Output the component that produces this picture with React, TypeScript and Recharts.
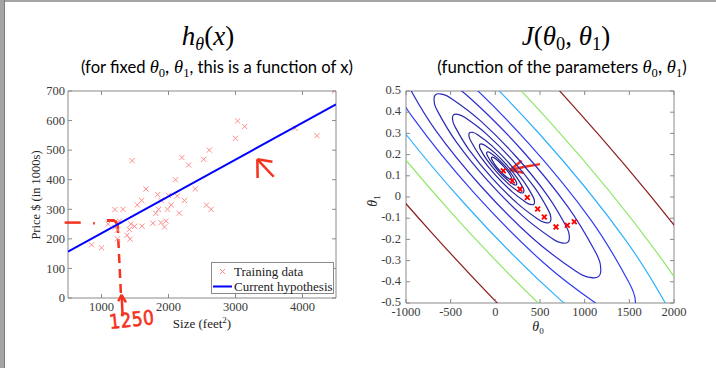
import React from 'react';
import { ScatterChart, Scatter, XAxis, YAxis, ReferenceArea, ReferenceLine, Legend } from 'recharts';

// ---------- Left chart data: housing training set ----------
const sizeFeet = [2104, 1600, 2400, 1416, 3000, 1985, 1534, 1427, 1380, 1494, 1940, 2000, 1890, 4478, 1268, 2300, 1320, 1236, 2609, 3031, 1767, 1888, 1604, 1962, 3890, 1100, 1458, 2526, 2200, 2637, 1839, 1000, 2040, 3137, 1811, 1437, 1239, 2132, 4215, 2162, 1664, 2238, 2567, 1200, 852, 1852, 1203];
const priceK = [399.9, 329.9, 369, 232, 539.9, 299.9, 314.9, 199, 212, 242.5, 240, 347, 330, 699.9, 259.9, 449.9, 299.9, 199.9, 500, 599, 252.9, 255, 242.9, 259.9, 573.9, 249.9, 464.5, 469, 475, 299.9, 349.9, 169.9, 314.9, 579.9, 285.9, 249.9, 229.9, 345, 549, 287, 368.5, 329.9, 314, 299, 179.9, 299.9, 239.5];
const hypothesisSize = [500, 4500];
const hypothesisPrice = [157, 655];
const sizeTicks = [1000, 2000, 3000, 4000];
const priceTicks = [0, 100, 200, 300, 400, 500, 600, 700];
const legendNames = ['Training data', 'Current hypothesis'];

// ---------- Right chart data ----------
const theta0Ticks = [-1000, -500, 0, 500, 1000, 1500, 2000];
const theta1Ticks = [-0.5, -0.4, -0.3, -0.2, -0.1, 0, 0.1, 0.2, 0.3, 0.4, 0.5];
const descentTheta0 = [89, 190, 276, 358, 474, 548, 679, 806, 884];
const descentTheta1 = [0.124, 0.076, 0.037, -0.002, -0.057, -0.094, -0.141, -0.133, -0.117];

const contour1 = [[183.7, 0.0818], [185.9, 0.0859], [180.3, 0.0934], [147.8, 0.1159], [94.8, 0.1434], [35.4, 0.1686], [-14.2, 0.1846], [-31.1, 0.1877], [-41.1, 0.1872], [-43.3, 0.1831], [-37.7, 0.1756], [-5.2, 0.1531], [47.8, 0.1256], [107.2, 0.1004], [156.8, 0.0844], [173.7, 0.0813]];
const contour2 = [[236.1, 0.0573], [239.4, 0.0633], [231.2, 0.0742], [183.5, 0.1072], [105.7, 0.1476], [18.7, 0.1844], [-54.2, 0.2079], [-78.9, 0.2125], [-93.5, 0.2117], [-96.8, 0.2057], [-88.6, 0.1948], [-40.9, 0.1618], [36.9, 0.1214], [123.9, 0.0846], [196.8, 0.0611], [221.5, 0.0565]];
const contour3 = [[314.7, 0.0204], [319.6, 0.0293], [307.5, 0.0454], [237.1, 0.0942], [122.1, 0.1538], [-6.4, 0.2083], [-114.0, 0.2430], [-150.6, 0.2497], [-172.1, 0.2486], [-177.0, 0.2397], [-164.9, 0.2236], [-94.5, 0.1748], [20.5, 0.1152], [149.0, 0.0607], [256.6, 0.0260], [293.2, 0.0193]];
const contour4 = [[430.8, -0.034], [438.0, -0.0209], [420.2, 0.0028], [316.1, 0.0749], [146.4, 0.163], [-43.5, 0.2435], [-202.4, 0.2947], [-256.5, 0.3047], [-288.2, 0.303], [-295.4, 0.2899], [-277.6, 0.2662], [-173.5, 0.1941], [-3.8, 0.106], [186.1, 0.0255], [345.0, -0.0257], [399.1, -0.0357]];
const contour5 = [[610.6, -0.1183], [621.4, -0.0986], [594.6, -0.063], [438.5, 0.0451], [183.9, 0.1773], [-100.9, 0.2979], [-339.3, 0.3748], [-420.4, 0.3897], [-468.0, 0.3873], [-478.8, 0.3676], [-452.0, 0.332], [-295.9, 0.2239], [-41.3, 0.0917], [243.5, -0.0289], [481.9, -0.1058], [563.0, -0.1207]];
const contour6 = [[812.8, -0.2131], [827.7, -0.186], [790.8, -0.1371], [576.2, 0.0116], [226.1, 0.1933], [-165.4, 0.3592], [-493.3, 0.4649], [-604.8, 0.4855], [-670.2, 0.4821], [-685.1, 0.455], [-648.2, 0.4061], [-433.6, 0.2574], [-83.5, 0.0757], [308.0, -0.0902], [635.9, -0.1959], [747.4, -0.2165]];
const contour7 = [[1157.4, -0.3746], [1179.1, -0.3349], [1125.2, -0.2632], [810.8, -0.0454], [298.1, 0.2206], [-275.4, 0.4637], [-755.6, 0.6184], [-918.9, 0.6485], [-1014.8, 0.6436], [-1036.5, 0.6039], [-982.6, 0.5322], [-668.2, 0.3144], [-155.5, 0.0484], [418.0, -0.1947], [898.2, -0.3494], [1061.5, -0.3795]];
const contour8 = [[1539.3, -0.5537], [1568.7, -0.4995], [1495.8, -0.4031], [1070.9, -0.1087], [377.8, 0.2509], [-397.3, 0.5794], [-1046.5, 0.7886], [-1267.2, 0.8293], [-1396.7, 0.8227], [-1426.1, 0.7685], [-1353.2, 0.6721], [-928.3, 0.3777], [-235.2, 0.0181], [539.9, -0.3104], [1189.1, -0.5196], [1409.8, -0.5603]];
const contour9 = [[2108.6, -0.8205], [2149.4, -0.746], [2048.2, -0.6116], [1458.5, -0.2031], [496.7, 0.2961], [-579.1, 0.7519], [-1479.9, 1.0422], [-1786.2, 1.0987], [-1966.0, 1.0895], [-2006.8, 1.015], [-1905.6, 0.8806], [-1315.9, 0.4721], [-354.1, -0.0271], [721.7, -0.4829], [1622.5, -0.7732], [1928.8, -0.8297]];
const contour10 = [[2737.7, -1.1154], [2791.1, -1.0179], [2658.7, -0.842], [1886.9, -0.3073], [628.1, 0.346], [-779.9, 0.9426], [-1959.0, 1.3225], [-2359.8, 1.3965], [-2595.1, 1.3844], [-2648.5, 1.2869], [-2516.1, 1.111], [-1744.3, 0.5763], [-485.5, -0.077], [922.5, -0.6736], [2101.6, -1.0535], [2502.4, -1.1275]];
const contour11 = [[3853.8, -1.6386], [3929.5, -1.5002], [3741.6, -1.2507], [2646.8, -0.4922], [861.1, 0.4345], [-1136.2, 1.2809], [-2808.7, 1.8197], [-3377.3, 1.9247], [-3711.2, 1.9076], [-3786.9, 1.7692], [-3599.0, 1.5197], [-2504.2, 0.7612], [-718.5, -0.1655], [1278.8, -1.0119], [2951.3, -1.5507], [3519.9, -1.6557]];
const contourLines = [contour1, contour2, contour3, contour4, contour5, contour6, contour7, contour8, contour9, contour10, contour11];
const contourColors = ['#22228f', '#232394', '#24249a', '#2626a2', '#2828ac', '#2a2ab8', '#2c2ccc', '#2f3ff0', '#2fb0ff', '#8ee868', '#8a1c1c'];

// ---------- Derived tables ----------
const trainingData = sizeFeet.map((x, i) => ({ x, y: priceK[i] }));
const hypothesisData = hypothesisSize.map((x, i) => ({ x, y: hypothesisPrice[i] }));
const descentData = descentTheta0.map((x, i) => ({ x, y: descentTheta1[i] }));
const contourData = contourLines.map((c) => c.map(([x, y]) => ({ x, y })));

// ---------- Styling helpers ----------
const SERIF = '"Liberation Serif", "Times New Roman", serif';
const AXIS = '#8a8a8a';
const TICKTEXT = '#3c3c3c';
const RED = '#f5321e';

function closedCardinal(context: any) {
  let pts: number[][] = [];
  return {
    areaStart() {},
    areaEnd() {},
    lineStart() { pts = []; },
    point(x: number, y: number) { pts.push([x, y]); },
    lineEnd() {
      const n = pts.length;
      if (!n) return;
      context.moveTo(pts[0][0], pts[0][1]);
      for (let i = 0; i < n; i++) {
        const p0 = pts[(i - 1 + n) % n], p1 = pts[i], p2 = pts[(i + 1) % n], p3 = pts[(i + 2) % n];
        context.bezierCurveTo(
          p1[0] + (p2[0] - p0[0]) / 6, p1[1] + (p2[1] - p0[1]) / 6,
          p2[0] - (p3[0] - p1[0]) / 6, p2[1] - (p3[1] - p1[1]) / 6,
          p2[0], p2[1]
        );
      }
      context.closePath();
    },
  };
}

const NoShape = () => <g />;

const PinkCross = (props: any) => {
  const { cx, cy } = props;
  const s = 2.6;
  return <path d={`M${cx - s},${cy - s}L${cx + s},${cy + s}M${cx - s},${cy + s}L${cx + s},${cy - s}`} stroke="#ff8c8c" strokeWidth={1} fill="none" />;
};
const RedCross = (props: any) => {
  const { cx, cy } = props;
  const s = 2.4;
  return <path d={`M${cx - s},${cy - s}L${cx + s},${cy + s}M${cx - s},${cy + s}L${cx + s},${cy - s}`} stroke="#ff0000" strokeWidth={1.8} fill="none" />;
};

function makeXTick(top: number, bottom: number, baseline: number, fmt: (v: number) => string) {
  return (p: any) => {
    const x = p.x;
    return (
      <g>
        <line x1={x} x2={x} y1={bottom} y2={bottom - 4} stroke={AXIS} />
        <line x1={x} x2={x} y1={top} y2={top + 4} stroke={AXIS} />
        <text x={x} y={baseline} textAnchor="middle" fontFamily={SERIF} fontSize={12.5} fill={TICKTEXT}>{fmt(p.payload.value)}</text>
      </g>
    );
  };
}
function makeYTick(left: number, right: number, textRight: number, dy: number, fmt: (v: number) => string) {
  return (p: any) => {
    const y = p.y;
    return (
      <g>
        <line x1={left} x2={left + 4} y1={y} y2={y} stroke={AXIS} />
        <line x1={right} x2={right - 4} y1={y} y2={y} stroke={AXIS} />
        <text x={textRight} y={y + dy} textAnchor="end" fontFamily={SERIF} fontSize={12.5} fill={TICKTEXT}>{fmt(p.payload.value)}</text>
      </g>
    );
  };
}

const LegendBox = (props: any) => {
  const payload = props.payload || [];
  const rows = legendNames.map((n) => payload.find((e: any) => e.value === n)).filter(Boolean);
  return (
    <div style={{ width: 121, height: 30, border: `1px solid ${AXIS}`, background: '#fff', fontFamily: SERIF, fontSize: 13, color: '#222', position: 'relative' }}>
      {rows.map((e: any, i: number) => (
        <div key={e.value} style={{ position: 'absolute', left: 0, top: i === 0 ? 1 : 16, height: 15, width: 121, lineHeight: '15px', whiteSpace: 'nowrap' }}>
          <svg width={22} height={15} style={{ position: 'absolute', left: 0, top: 0 }}>
            {e.value === 'Training data' ? (
              <path d="M8,5L13,10M8,10L13,5" stroke="#ff8c8c" strokeWidth={1} fill="none" />
            ) : (
              <line x1={1} x2={20} y1={7.5} y2={7.5} stroke="#0000ff" strokeWidth={2} />
            )}
          </svg>
          <span style={{ position: 'absolute', left: 22, top: 0 }}>{e.value}</span>
        </div>
      ))}
    </div>
  );
};

const mathStyle: React.CSSProperties = { fontFamily: SERIF, fontStyle: 'italic' };
const subStyle: React.CSSProperties = { fontSize: '0.68em', verticalAlign: '-0.28em', fontStyle: 'normal' };

function Theta({ i }: { i: number }) {
  return (
    <span style={mathStyle}>θ<span style={subStyle}>{i}</span></span>
  );
}

export default function App() {
  const fmtInt = (v: number) => String(v);
  const fmtDec = (v: number) => (Math.abs(v) < 1e-9 ? '0' : v.toFixed(1));

  const L = { left: 68, right: 336, top: 91, bottom: 298 };
  const R = { left: 48, right: 316, top: 91, bottom: 303 };

  return (
    <div style={{ position: 'absolute', left: 0, top: 0, width: 716, height: 368, background: '#fff', overflow: 'hidden' }}>
      <div style={{ position: 'absolute', left: 0, top: 0, width: 716, height: 2, background: '#a4a4a4' }} />
      <div style={{ position: 'absolute', left: 0, top: 0, width: 4, height: 368, background: '#a4a4a4', borderRight: '1px solid #7c7c7c' }} />

      {/* titles */}
      <div style={{ position: 'absolute', left: 58, width: 300, top: 21, textAlign: 'center', fontSize: 27, lineHeight: '30px', color: '#000', fontFamily: SERIF }}>
        <span style={mathStyle}>h</span><span style={{ ...mathStyle, fontSize: 18, verticalAlign: '-0.3em' }}>θ</span>(<span style={mathStyle}>x</span>)
      </div>
      <div style={{ position: 'absolute', left: 416, width: 300, top: 21, textAlign: 'center', fontSize: 27, lineHeight: '30px', color: '#000', fontFamily: SERIF }}>
        <span style={mathStyle}>J</span>(<Theta i={0} />, <Theta i={1} />)
      </div>
      <div style={{ position: 'absolute', left: 17, width: 400, top: 56, textAlign: 'center', fontSize: 16.6, lineHeight: '20px', color: '#000', fontFamily: 'Lato, "Open Sans", sans-serif' }}>
        (for fixed <span style={{ fontSize: 18.5 }}><Theta i={0} />, <Theta i={1} /></span>, this is a function of x)
      </div>
      <div style={{ position: 'absolute', left: 362, width: 400, top: 56, textAlign: 'center', fontSize: 16.8, lineHeight: '20px', color: '#000', fontFamily: 'Lato, "Open Sans", sans-serif' }}>
        (function of the parameters <span style={{ fontSize: 18.5 }}><Theta i={0} />, <Theta i={1} /></span>)
      </div>

      {/* left chart */}
      <div style={{ position: 'absolute', left: 0, top: 0 }}>
        <ScatterChart width={358} height={368} margin={{ top: 91, right: 22, bottom: 40, left: 0 }}>
          <XAxis type="number" dataKey="x" domain={[500, 4500]} ticks={sizeTicks} allowDataOverflow height={30}
            axisLine={false} tickLine={false} tick={makeXTick(L.top, L.bottom, 311, fmtInt)} interval={0}
            label={() => (
              <text x={202} y={328} textAnchor="middle" fontFamily={SERIF} fontSize={13} fill="#222">
                Size (feet<tspan dy={-5} fontSize={9}>2</tspan><tspan dy={5}>)</tspan>
              </text>
            )} />
          <YAxis type="number" dataKey="y" domain={[0, 700]} ticks={priceTicks} allowDataOverflow width={68}
            axisLine={false} tickLine={false} tick={makeYTick(L.left, L.right, 65, 4.3, fmtInt)} interval={0}
            label={() => (
              <text x={40} y={195} transform="rotate(-90 40 195)" textAnchor="middle" fontFamily={SERIF} fontSize={12.5} fill="#222">
                Price $ (in 1000s)
              </text>
            )} />
          <ReferenceArea x1={500} x2={4500} y1={0} y2={700} fill="none" fillOpacity={0} stroke={AXIS} strokeWidth={1} ifOverflow="visible" />
          <Scatter name="Training data" data={trainingData} shape={PinkCross} isAnimationActive={false} legendType="cross" />
          <Scatter name="Current hypothesis" data={hypothesisData} shape={NoShape} line={{ stroke: '#0000ff', strokeWidth: 2 }} isAnimationActive={false} legendType="line" />
          {/* handwritten annotations */}
          <ReferenceLine segment={[{ x: 450, y: 255 }, { x: 690, y: 255 }]} stroke={RED} strokeWidth={2.5} ifOverflow="visible" />
          <ReferenceLine segment={[{ x: 875, y: 253 }, { x: 900, y: 253 }]} stroke={RED} strokeWidth={2.5} ifOverflow="visible" />
          <ReferenceLine segment={[{ x: 1080, y: 262 }, { x: 1200, y: 262 }]} stroke={RED} strokeWidth={3} ifOverflow="visible" />
          <ReferenceLine segment={[{ x: 1200, y: 262 }, { x: 1240, y: 248 }]} stroke={RED} strokeWidth={3} ifOverflow="visible" />
          <ReferenceLine segment={[{ x: 1240, y: 250 }, { x: 1290, y: 12 }]} stroke={RED} strokeWidth={2.5} strokeDasharray="9 6" ifOverflow="visible" />
          <ReferenceLine segment={[{ x: 1316, y: -62 }, { x: 1300, y: 11 }]} stroke={RED} strokeWidth={2.5} ifOverflow="visible" />
          <ReferenceLine segment={[{ x: 1300, y: 11 }, { x: 1250, y: -11 }]} stroke={RED} strokeWidth={2.5} ifOverflow="visible" />
          <ReferenceLine segment={[{ x: 1300, y: 11 }, { x: 1365, y: -15 }]} stroke={RED} strokeWidth={2.5} ifOverflow="visible" />
          <ReferenceLine segment={[{ x: 3326, y: 469 }, { x: 3570, y: 410 }]} stroke={RED} strokeWidth={2.5} ifOverflow="visible" />
          <ReferenceLine segment={[{ x: 3326, y: 469 }, { x: 3330, y: 406 }]} stroke={RED} strokeWidth={2.5} ifOverflow="visible" />
          <ReferenceLine segment={[{ x: 3326, y: 469 }, { x: 3551, y: 461 }]} stroke={RED} strokeWidth={2.5} ifOverflow="visible" />
          <Legend content={LegendBox} layout="vertical" align="center" verticalAlign="middle"
            wrapperStyle={{ left: 211, top: 262, width: 123, height: 32 }} />
        </ScatterChart>
      </div>
      <div style={{ position: 'absolute', left: 108, top: 311, color: RED, fontFamily: '"Liberation Sans Narrow", "DejaVu Sans Condensed", sans-serif', fontWeight: 'normal', fontSize: 20, lineHeight: '22px', transform: 'rotate(-6deg) scaleX(0.95)', transformOrigin: 'left top', letterSpacing: 0.5, WebkitTextStroke: '0.6px ' + RED }}>1250</div>

      {/* right chart */}
      <div style={{ position: 'absolute', left: 358, top: 0 }}>
        <ScatterChart width={358} height={368} margin={{ top: 91, right: 42, bottom: 35, left: 0 }}>
          <XAxis type="number" dataKey="x" domain={[-1000, 2000]} ticks={theta0Ticks} allowDataOverflow height={30}
            axisLine={false} tickLine={false} tick={makeXTick(R.top, R.bottom, 316, fmtInt)} interval={0}
            label={() => (
              <text x={180} y={331} textAnchor="middle" fontFamily={SERIF} fontSize={14} fontStyle="italic" fill="#222">
                θ<tspan dy={3} fontSize={9} fontStyle="normal">0</tspan>
              </text>
            )} />
          <YAxis type="number" dataKey="y" domain={[-0.5, 0.5]} ticks={theta1Ticks} allowDataOverflow width={48}
            axisLine={false} tickLine={false} tick={makeYTick(R.left, R.right, 43, 3.2, fmtDec)} interval={0}
            label={() => (
              <text x={19} y={201} transform="rotate(-90 19 201)" textAnchor="middle" fontFamily={SERIF} fontSize={14} fontStyle="italic" fill="#222">
                θ<tspan dy={3} fontSize={9} fontStyle="normal">1</tspan>
              </text>
            )} />
          {contourData.map((d, i) => (
            <Scatter key={`c${i}`} name={`contour${i + 1}`} data={d} shape={NoShape}
              line={{ stroke: contourColors[i], strokeWidth: 1.2 }} lineJointType={closedCardinal as any}
              isAnimationActive={false} legendType="none" />
          ))}
          <ReferenceArea x1={-1000} x2={2000} y1={-0.5} y2={0.5} fill="none" fillOpacity={0} stroke={AXIS} strokeWidth={1} ifOverflow="visible" />
          <Scatter name="Gradient descent" data={descentData} shape={RedCross} isAnimationActive={false} legendType="none" />
          <ReferenceLine segment={[{ x: 500, y: 0.155 }, { x: 330, y: 0.143 }]} stroke={RED} strokeWidth={2.5} ifOverflow="visible" />
          <ReferenceLine segment={[{ x: 330, y: 0.143 }, { x: 164, y: 0.127 }]} stroke={RED} strokeWidth={2.5} ifOverflow="visible" />
          <ReferenceLine segment={[{ x: 164, y: 0.127 }, { x: 295, y: 0.171 }]} stroke={RED} strokeWidth={2.5} ifOverflow="visible" />
          <ReferenceLine segment={[{ x: 164, y: 0.127 }, { x: 313, y: 0.114 }]} stroke={RED} strokeWidth={2.5} ifOverflow="visible" />
        </ScatterChart>
      </div>
    </div>
  );
}
